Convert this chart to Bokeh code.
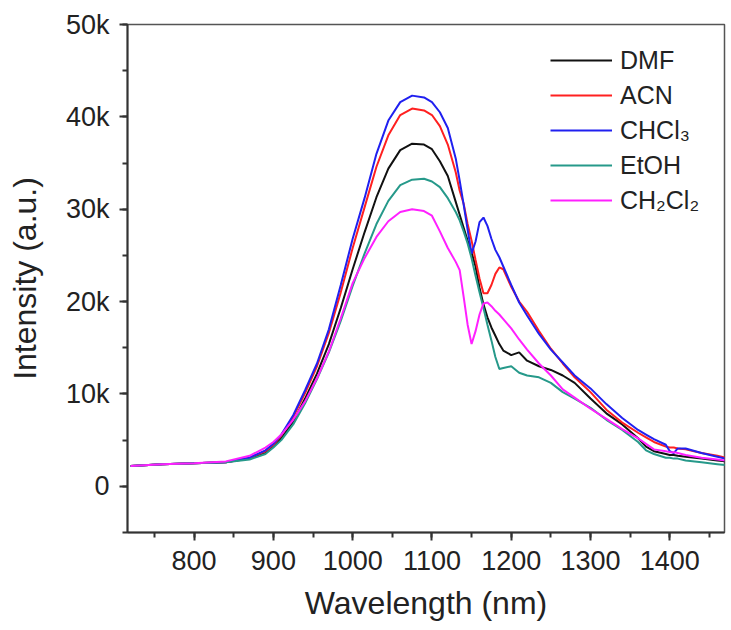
from bokeh.plotting import figure
from bokeh.models import (SingleIntervalTicker, CustomJSTickFormatter, Legend, LegendItem, Range1d)
from bokeh.embed import file_html
from bokeh.resources import INLINE

# Wavelength grid (nm)
wavelength = [720, 760, 800, 840, 870, 890, 900, 910, 925, 940, 955, 970, 985, 1000, 1015,
              1030, 1045, 1060, 1075, 1090, 1100, 1110, 1120, 1130, 1135, 1140, 1145, 1150,
              1155, 1160, 1165, 1170, 1175, 1180, 1185, 1190, 1200, 1210, 1220, 1235, 1250,
              1265, 1280, 1300, 1320, 1340, 1360, 1370, 1380, 1395, 1400, 1405, 1410, 1420,
              1440, 1460, 1470]

# Intensities in thousands (k)
dmf = [2.2, 2.4, 2.5, 2.6, 3.0, 3.6, 4.3, 5.2, 7.0, 9.5, 12.2, 15.4, 19.3, 23.5, 27.5,
       31.3, 34.4, 36.4, 37.1, 37.0, 36.5, 35.2, 33.6, 30.8, 29.4, 28.0, 26.6, 25.3,
       23.8, 21.5, 19.7, 18.3, 17.2, 16.3, 15.4, 14.7, 14.2, 14.5, 13.6, 13.0, 12.6,
       12.0, 11.2, 9.5, 7.9, 6.7, 5.2, 4.3, 3.8, 3.5, 3.4, 3.4, 3.3, 3.2,
       3.0, 2.8, 2.7]
acn = [2.2, 2.4, 2.5, 2.6, 3.1, 3.8, 4.5, 5.5, 7.5, 10.1, 13.0, 16.6, 21.0, 25.8, 30.2,
       34.6, 38.0, 40.2, 40.9, 40.7, 40.2, 39.0, 37.0, 34.0, 32.0, 30.6, 28.4, 26.6,
       24.5, 22.5, 20.9, 20.9, 21.8, 23.0, 23.7, 23.5, 21.6, 20.0, 18.9, 16.8, 14.9,
       13.3, 11.8, 10.2, 8.3, 6.9, 5.8, 5.3, 4.8, 4.3, 4.2, 4.2, 4.1, 4.0,
       3.6, 3.3, 3.1]
chcl3 = [2.2, 2.4, 2.5, 2.6, 3.1, 3.9, 4.6, 5.6, 7.7, 10.4, 13.3, 17.0, 21.8, 26.8, 31.2,
         36.0, 39.6, 41.6, 42.3, 42.1, 41.6, 40.5, 38.8, 35.5, 33.1, 30.5, 27.8, 25.2,
         26.5, 28.6, 29.1, 28.2, 26.8, 25.6, 24.8, 23.8, 21.8, 19.9, 18.5, 16.5, 14.8,
         13.4, 12.0, 10.6, 8.9, 7.4, 6.1, 5.6, 5.1, 4.5, 3.8, 3.6, 4.1, 4.1,
         3.6, 3.2, 3.0]
etoh = [2.2, 2.4, 2.5, 2.6, 2.9, 3.5, 4.2, 5.0, 6.7, 9.0, 11.6, 14.5, 17.9, 21.7, 25.2,
        28.4, 30.9, 32.6, 33.2, 33.3, 33.0, 32.4, 31.2, 29.7, 28.8, 27.6, 26.3, 24.7,
        22.8, 21.0, 19.3, 17.5, 15.8, 14.0, 12.7, 12.8, 13.0, 12.3, 12.0, 11.8, 11.2,
        10.2, 9.5, 8.5, 7.2, 6.1, 4.8, 3.9, 3.5, 3.1, 3.1, 3.0, 3.0, 2.8,
        2.6, 2.4, 2.3]
ch2cl2 = [2.2, 2.4, 2.5, 2.7, 3.3, 4.2, 4.8, 5.6, 7.2, 9.2, 11.7, 14.6, 18.2, 22.0, 24.7,
          27.0, 28.7, 29.7, 30.0, 29.8, 29.3, 27.6, 25.8, 24.3, 23.4, 20.5, 17.5, 15.4,
          16.8, 18.6, 19.8, 19.9, 19.5, 19.0, 18.6, 18.1, 17.1, 15.9, 14.8, 13.3, 12.0,
          10.5, 9.6, 8.4, 7.3, 6.2, 5.2, 4.6, 4.0, 3.8, 3.7, 3.7, 3.6, 3.4,
          3.1, 2.9, 2.8]

series_names = ["DMF", "ACN", "CHCl\u2083", "EtOH", "CH\u2082Cl\u2082"]
series_values = [dmf, acn, chcl3, etoh, ch2cl2]
series_colors = ["#111111", "#ff2020", "#2020f0", "#26998a", "#ff20ff"]

FONT = "Liberation Sans"

p = figure(width=726, height=625, output_backend="svg", toolbar_location=None,
           x_range=Range1d(716, 1469), y_range=Range1d(-5, 50),
           min_border_left=127, min_border_top=24, min_border_right=2, min_border_bottom=93)

renderers = []
for name, vals, col in zip(series_names, series_values, series_colors):
    r = p.line(wavelength, vals, line_color=col, line_width=2)
    renderers.append((name, r))

p.xgrid.visible = False
p.ygrid.visible = False
p.outline_line_color = "#555555"
p.outline_line_width = 1.5

p.xaxis.ticker = SingleIntervalTicker(interval=100, num_minor_ticks=2)
p.yaxis.ticker = SingleIntervalTicker(interval=10, num_minor_ticks=2)
p.yaxis.formatter = CustomJSTickFormatter(code="return tick == 0 ? '0' : tick + 'k';")

for ax in (p.xaxis[0], p.yaxis[0]):
    ax.axis_line_width = 2
    ax.axis_line_color = "#333333"
    ax.major_tick_line_color = "#333333"
    ax.minor_tick_line_color = "#333333"
    ax.major_tick_line_width = 2
    ax.minor_tick_line_width = 2
    ax.major_tick_in = 0
    ax.major_tick_out = 8
    ax.minor_tick_in = 0
    ax.minor_tick_out = 5
    ax.major_label_text_font = FONT
    ax.major_label_text_font_size = "27px"
    ax.major_label_text_color = "#222222"
    ax.axis_label_text_font = FONT
    ax.axis_label_text_font_size = "32px"
    ax.axis_label_text_font_style = "normal"
    ax.axis_label_text_color = "#222222"

p.xaxis.axis_label = "Wavelength (nm)"
p.yaxis.axis_label = "Intensity (a.u.)"
p.xaxis.major_label_standoff = 10
p.yaxis.major_label_standoff = 10
p.xaxis.axis_label_standoff = 12
p.yaxis.axis_label_standoff = 20

legend = Legend(items=[LegendItem(label=n, renderers=[r]) for n, r in renderers],
                location=(423, 317), orientation="vertical",
                glyph_width=62, glyph_height=30, label_height=30, spacing=5,
                label_standoff=8, padding=0, margin=0,
                label_text_font=FONT, label_text_font_size="25px",
                label_text_color="#222222",
                border_line_color=None, background_fill_alpha=0)
p.add_layout(legend)

open("out.html", "w").write(file_html(p, INLINE))
